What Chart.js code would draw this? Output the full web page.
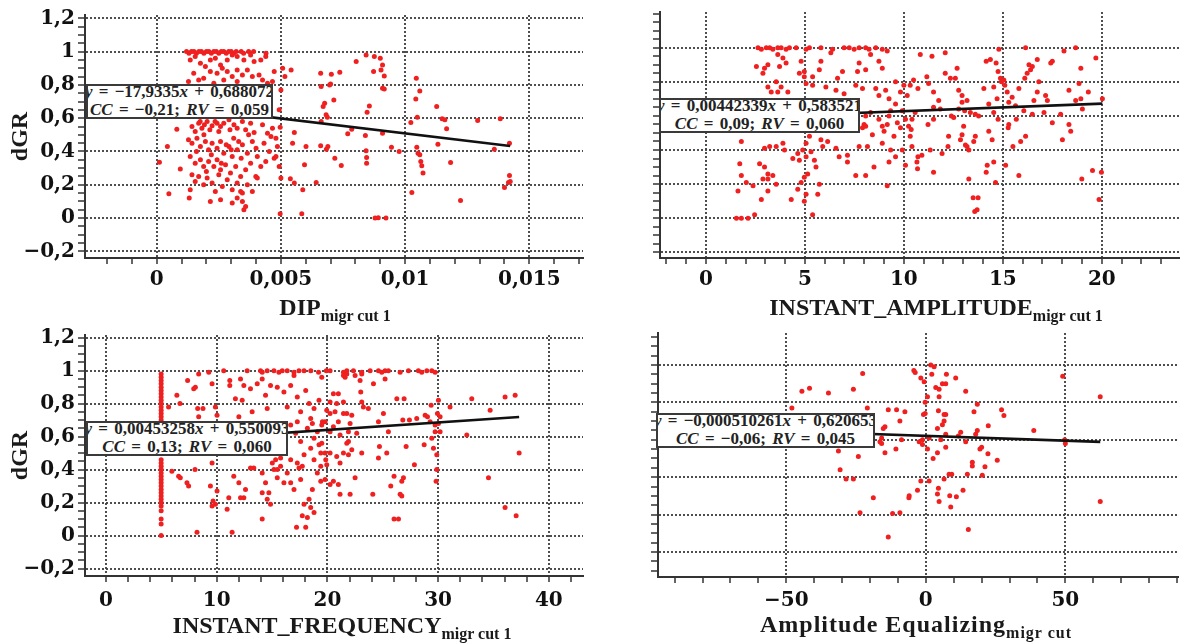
<!DOCTYPE html>
<html>
<head>
<meta charset="utf-8">
<script src="https://cdn.jsdelivr.net/npm/chart.js@4.4.1/dist/chart.umd.min.js"></script>
<style>
  html, body { margin: 0; padding: 0; background: #fff; }
  #page { position: relative; width: 1183px; height: 643px; overflow: hidden; }
  canvas { position: absolute; }
  .box { position: absolute; background: #fff; border: 2px solid #3a3a3a; box-sizing: border-box;
         overflow: hidden; white-space: nowrap; text-align: center; color: #222;
         font: bold 17px "Liberation Serif", serif; word-spacing: 2px; }
  .box div { height: 18px; line-height: 18px; margin-left: -10px; margin-right: -10px; }
  .box div:first-child { margin-top: -3px; }
  .xt { position: absolute; white-space: nowrap; transform: translateX(-50%); color: #1a1a1a;
        font: bold 24px "Liberation Serif", serif; line-height: 28px; }
  .xt span { font-size: 16px; position: relative; top: 6px; }
</style>
</head>
<body>
<div id="page">
  <canvas id="c1" width="600" height="300" style="left:0;top:0"></canvas>
  <canvas id="c2" width="583" height="300" style="left:600px;top:0"></canvas>
  <canvas id="c3" width="600" height="323" style="left:0;top:320px"></canvas>
  <canvas id="c4" width="583" height="323" style="left:600px;top:320px"></canvas>
  <div class="xt" style="left:335px;top:293px">DIP<span>migr cut 1</span></div>
  <div class="xt" style="left:936px;top:293px">INSTANT_AMPLITUDE<span>migr cut 1</span></div>
  <div class="xt" style="left:342px;top:611px">INSTANT_FREQUENCY<span>migr cut 1</span></div>
  <div class="xt" style="left:916px;top:610px;letter-spacing:1px">Amplitude Equalizing<span>migr cut</span></div>
</div>
<script>
// ===== values =====

// DIP (migr cut 1) vs dGR
var dipPoints = [
  [0.0012,1],[0.0013,0.99],[0.0014,1],[0.0015,1],[0.0016,0.99],[0.0017,1],[0.0018,1],[0.0019,0.99],[0.002,1],[0.0021,1],
  [0.0022,0.99],[0.0023,1],[0.0024,1],[0.0025,0.99],[0.0026,1],[0.0027,1],[0.0028,0.99],[0.0029,1],[0.003,1],[0.0031,0.99],
  [0.0032,1],[0.0034,1],[0.0035,0.99],[0.0037,1],[0.0039,1],[0.0044,0.99],
  [0.00135,0.95],[0.00155,0.97],[0.00176,0.93],[0.00196,0.91],[0.00216,0.95],[0.00236,0.96],[0.00257,0.92],[0.00284,0.95],
  [0.00304,0.98],[0.00324,0.97],[0.00351,0.95],[0.00378,0.98],[0.00392,0.94],[0.00419,0.95],[0.00439,0.97],[0.00473,0.88],
  [0.00149,0.87],[0.00169,0.83],[0.00189,0.84],[0.00216,0.88],[0.00243,0.87],[0.00264,0.9],[0.00284,0.88],[0.00304,0.85],
  [0.00324,0.89],[0.00345,0.86],[0.00365,0.89],[0.00385,0.85],[0.00412,0.86],[0.00426,0.83],[0.00446,0.81],[0.00466,0.82],
  [0.00128,0.82],[0.0023,0.81],[0.00324,0.82],[0.0027,0.83],
  [0.00507,0.9],[0.00541,0.89],[0.00516,0.85],[0.005,0.77],[0.00493,0.65],[0.0066,0.87],[0.00662,0.79],[0.00696,0.8],
  [0.00682,0.62],[0.00662,0.58],
  [0.00081,0.534],[0.00043,0.43],[0.00011,0.336],[0.00095,0.294],[0.00049,0.146],[0.00131,0.12],[0.00135,0.17],
  [0.00142,0.55],[0.00155,0.52],[0.00169,0.57],[0.00182,0.54],[0.00192,0.56],[0.00203,0.58],[0.00214,0.53],[0.00223,0.554],
  [0.00243,0.57],[0.00257,0.55],[0.0027,0.57],[0.00291,0.59],[0.00311,0.56],[0.00324,0.54],[0.00345,0.58],[0.00358,0.53],
  [0.00378,0.57],[0.00392,0.514],[0.00426,0.56],[0.00446,0.51],[0.00466,0.54],[0.0048,0.48],
  [0.00128,0.47],[0.00142,0.45],[0.00162,0.48],[0.00176,0.43],[0.00196,0.46],[0.00209,0.41],[0.00223,0.45],[0.00243,0.42],
  [0.00257,0.46],[0.0027,0.39],[0.00291,0.43],[0.00304,0.37],[0.00324,0.41],[0.00345,0.44],[0.00365,0.39],[0.00385,0.46],
  [0.00405,0.37],[0.00432,0.45],[0.00453,0.4],[0.00473,0.36],
  [0.00135,0.37],[0.00155,0.33],[0.00176,0.35],[0.00189,0.31],[0.00209,0.34],[0.0023,0.31],[0.00243,0.35],[0.00257,0.29],
  [0.00277,0.32],[0.00297,0.27],[0.00318,0.31],[0.00338,0.25],[0.00358,0.29],[0.00378,0.33],[0.00399,0.25],[0.00419,0.31],
  [0.00439,0.34],
  [0.00142,0.26],[0.00155,0.22],[0.00169,0.25],[0.00189,0.2],[0.00203,0.24],[0.00223,0.21],[0.00236,0.16],[0.0025,0.26],
  [0.00264,0.19],[0.00284,0.23],[0.00304,0.17],[0.00324,0.21],[0.00345,0.15],[0.00365,0.2],[0.00385,0.16],[0.00405,0.24],
  [0.00216,0.1],[0.00257,0.11],[0.00304,0.09],[0.00324,0.12],[0.00345,0.1],[0.00351,0.05],[0.00358,0.07],[0.00338,0.16],
  [0.0016,0.4],[0.0019,0.5],[0.0022,0.38],[0.0025,0.52],[0.0028,0.44],[0.0031,0.48],[0.0034,0.36],[0.0037,0.5],
  [0.004,0.42],[0.002,0.28],[0.0026,0.33],[0.003,0.41],[0.00235,0.58],[0.00175,0.58],[0.00295,0.53],[0.0033,0.46],
  [0.00497,0.546],[0.0046,0.49],[0.00486,0.43],[0.0048,0.37],[0.00493,0.31],[0.005,0.24],[0.00497,0.026],[0.00538,0.236],
  [0.00554,0.21],[0.00584,0.026],[0.00588,0.17],[0.00595,0.32],[0.00601,0.43],[0.00547,0.45],[0.00554,0.514],[0.0066,0.434],
  [0.00642,0.214],[0.00689,0.43],
  [0.00803,0.94],[0.00843,0.98],[0.00876,0.97],[0.009,0.96],[0.00909,0.92],[0.00903,0.89],[0.00873,0.88],[0.00916,0.854],
  [0.00909,0.78],[0.00916,0.776],[0.007,0.806],[0.00737,0.876],[0.00703,0.864],[0.00713,0.71],[0.00676,0.69],[0.0067,0.67],
  [0.00687,0.606],[0.00856,0.674],[0.00847,0.636],[0.00785,0.534],[0.00769,0.506],[0.0084,0.496],[0.00909,0.51],[0.00683,0.414],
  [0.00717,0.36],[0.00743,0.316],[0.00843,0.404],[0.00845,0.364],[0.00845,0.33],[0.00945,0.426],[0.00976,0.4],[0.00879,0],
  [0.00892,0.002],[0.00923,0],[0.01045,0.84],[0.01043,0.716],[0.01059,0.764],[0.01049,0.606],[0.01023,0.574],[0.01127,0.67],
  [0.01149,0.596],[0.0116,0.59],[0.01167,0.536],[0.01132,0.444],[0.01047,0.426],[0.01052,0.39],[0.01059,0.38],[0.01063,0.34],
  [0.01067,0.314],[0.01072,0.27],[0.01027,0.154],[0.01183,0.334],[0.01223,0.106],[0.01292,0.586],[0.01383,0.596],[0.01359,0.414],
  [0.0142,0.45],[0.0142,0.256],[0.01423,0.22],[0.01416,0.214],[0.014,0.184]
];

// INSTANT_AMPLITUDE (migr cut 1) vs dGR
var ampPoints = [
  [2.63,1],[2.8,0.99],[3.05,1],[3.22,1],[3.38,0.99],[3.63,1],[3.8,1],[4.05,0.99],[4.22,1],[4.56,1],[5.06,0.99],[5.23,1],
  [5.81,1],[6.4,0.99],[6.98,1],[7.24,1],[7.49,0.99],[7.74,1],[8.07,1],[8.24,0.99],[8.58,1],[8.91,0.99],[9.16,0.98],
  [14.8,0.99],[16.15,1],[18.68,1],[18.09,0.98],
  [2.96,0.88],[2.55,0.89],[2.88,0.85],[3.13,0.9],[3.63,0.96],[3.89,0.94],[4.05,0.91],[3.72,0.89],[4.81,0.92],[4.97,0.86],
  [4.72,0.85],[5.39,0.83],[5.73,0.87],[5.81,0.92],[6.31,0.97],[6.9,0.86],[6.65,0.82],[7.66,0.86],[7.74,0.91],[8.07,0.87],
  [8.32,0.96],[8.74,0.92],[8.91,0.88],
  [3.55,0.8],[3.8,0.77],[4.14,0.74],[3.3,0.74],[3.13,0.77],[3.63,0.74],[4.97,0.83],[5.06,0.79],[5.39,0.78],[6.06,0.77],
  [6.57,0.75],[6.98,0.73],[7.57,0.78],[7.91,0.76],[8.58,0.76],[8.74,0.72],[9.08,0.75],[9.25,0.7],[9.58,0.8],[9.83,0.74],
  [10,0.78],[10.17,0.72],[9.58,0.67],[9.92,0.63],[9.33,0.63],
  [7.99,0.55],[8.07,0.6],[8.32,0.62],[7.91,0.53],[8.74,0.58],[9.25,0.6],[9.67,0.56],[10.08,0.58],[9,0.51],
  [8.07,0.54],[8.41,0.49],[8.91,0.54],[9.16,0.55],[9.5,0.48],[9.83,0.53],[7.74,0.42],[8.16,0.42],[8.91,0.44],[9.33,0.4],
  [9.58,0.36],[9.92,0.4],[9.25,0.33],[10.08,0.31],[8.49,0.3],[7.57,0.25],[8.07,0.25],[9.16,0.19],
  [5.23,0.48],[5.06,0.44],[4.89,0.4],[5.06,0.36],[5.31,0.39],[4.72,0.34],[4.39,0.35],[4.64,0.38],[5.48,0.34],[5.56,0.3],
  [4.97,0.24],[5.14,0.26],[4.81,0.21],[4.64,0.17],[5.06,0.14],[4.97,0.1],[4.31,0.11],[5.39,0.02],[5.73,0.2],[5.65,0.14],
  [5.81,0.46],[6.15,0.45],[6.57,0.41],[6.73,0.36],[7.15,0.37],[7.15,0.33],[5.9,0.42],[3.89,0.44],[3.97,0.4],[3.55,0.42],
  [3.22,0.42],[2.96,0.41],[2.71,0.32],[2.96,0.3],[3.13,0.26],[3.38,0.25],[2.88,0.23],[3.13,0.16],[2.8,0.11],[2.38,0.19],
  [2.04,0.21],[1.79,0.25],[1.71,0.32],[1.79,0.45],[1.62,0.16],[1.54,0],[1.79,0],[2.13,0],[2.46,0.02],[3.55,0.2],[3.13,0.23],
  [10.83,0.96],[11.42,0.95],[12.09,0.97],[14.16,0.92],[14.37,0.93],[14.66,0.91],[14.76,0.86],[14.88,0.82],[14.93,0.8],
  [15.05,0.81],[16.32,0.9],[16.49,0.89],[16.4,0.87],[16.23,0.85],[16.11,0.82],[16.74,0.93],[17.5,0.92],[17.42,0.91],
  [18.94,0.88],[19.7,0.94],[18.85,0.79],[19.32,0.74],[18.94,0.7],[20.03,0.7],[19.02,0.64],[18.68,0.69],[18.34,0.75],
  [17.16,0.72],[17.25,0.69],[16.74,0.74],[16.82,0.8],[16.57,0.69],[15.81,0.76],[15.47,0.71],[15.22,0.74],[15.1,0.78],
  [15.3,0.68],[15.64,0.66],[16.06,0.63],[16.49,0.61],[17.08,0.62],[17.5,0.56],[17.92,0.61],[18.34,0.55],[18.43,0.51],
  [18.01,0.46],[16.15,0.48],[15.9,0.45],[15.51,0.42],[15.3,0.55],[15.27,0.53],[15.68,0.58],[15.14,0.31],[15.81,0.25],
  [14.76,0.58],[14.54,0.33],[14.63,0.21],[14.21,0.31],[14.16,0.27],[13.75,0.12],[13.5,0.12],[13.7,0.05],[13.58,0.04],
  [13.28,0.23],[13.28,0.4],[13.19,0.42],[13.11,0.43],[13.61,0.48],[13.53,0.45],[13.78,0.6],[13.61,0.61],[13.36,0.62],
  [13.07,0.63],[12.94,0.68],[12.94,0.72],[12.77,0.75],[13.19,0.69],[12.6,0.82],[12.69,0.88],[12.35,0.82],[12.09,0.85],
  [12.77,0.64],[12.52,0.59],[12.4,0.6],[13.02,0.54],[12.94,0.49],[12.86,0.46],[12.26,0.48],[12.23,0.42],[11.93,0.38],
  [11.5,0.27],[11.33,0.4],[10.91,0.37],[10.71,0.36],[10.66,0.33],[10.69,0.29],[10.41,0.42],[10.32,0.48],[10.37,0.52],
  [11.22,0.55],[11.5,0.58],[11.84,0.64],[11.5,0.65],[11.76,0.69],[11.5,0.74],[11.25,0.79],[11.16,0.83],[10.49,0.81],
  [10.71,0.76],[10.32,0.78],[10.41,0.58],[10.57,0.62],[10.24,0.54],[19.53,0.28],[18.99,0.23],[19.98,0.27],[19.86,0.11],
  [14.29,0.51],[14.46,0.46],[14.54,0.62],[14.29,0.67],[14.04,0.76],[14.54,0.77],[14.71,0.7]
];

// INSTANT_FREQUENCY (migr cut 1) vs dGR
var freqPoints = [
  [4.98,0.98],[4.98,0.96],[4.98,0.94],[4.98,0.92],[4.98,0.9],[4.98,0.88],[4.98,0.86],[4.98,0.84],[4.98,0.82],[4.98,0.8],
  [4.98,0.78],[4.98,0.76],[4.98,0.74],[4.98,0.72],[4.98,0.7],[4.98,0.66],[4.98,0.6],[4.98,0.55],[4.98,0.5],[4.98,0.46],
  [4.98,0.44],[4.98,0.42],[4.98,0.4],[4.98,0.38],[4.98,0.36],[4.98,0.34],[4.98,0.32],[4.98,0.3],[4.98,0.28],[4.98,0.26],
  [4.98,0.24],[4.98,0.22],[4.98,0.2],[4.98,0.18],[4.98,0.15],[4.98,0.1],[4.98,0.07],[4.98,0],
  [10.63,1],[12.75,1],[13.96,1],[14.11,0.99],[14.56,1],[15.17,1],[15.62,0.99],[15.92,1],[16.37,1],[16.98,0.99],[17.43,1],
  [17.89,1],[18.5,1],[19.2,0.99],[19.9,1],[20.24,1],[21.45,0.99],[21.75,1],[22.35,1],[23.1,0.99],[23.86,1],[24.61,1],
  [24.91,0.99],[25.21,1],[25.51,1],[26.57,0.99],[27.32,1],[28.22,1],[28.52,0.99],[28.98,1],[29.43,1],[29.73,0.99],
  [5.65,0.78],[6.4,0.85],[6.68,0.8],[7.37,0.94],[7.92,0.89],[8.07,0.9],[8.37,0.98],[8.28,0.77],[8.76,0.77],[8.37,0.72],
  [9.28,0.99],[9.58,0.92],[9.88,0.78],[10.03,0.73],[11.18,0.94],[11.18,0.91],[11.69,0.83],[12.15,0.95],[12.45,0.91],
  [12.3,0.82],[12,0.72],[13.05,0.89],[13.2,0.75],[13.66,0.92],[14.11,0.95],[14.41,0.85],[14.56,0.77],[14.86,0.91],
  [15.47,0.9],[16.07,0.87],[16.37,0.78],[16.68,0.91],[16.98,0.97],[17.28,0.84],[17.58,0.75],[18.04,0.88],[18.34,0.8],
  [18.49,0.71],[18.79,0.77],[19.24,0.82],[19.55,0.69],
  [5.95,0.39],[6.56,0.36],[6.71,0.35],[7.31,0.32],[7.46,0.3],[8.04,0.4],[8.22,0.02],[9.12,0.5],[9.58,0.44],[9.43,0.3],
  [9.67,0.21],[9.88,0.19],[9.58,0.18],[10.03,0.27],[10.94,0.16],[11.09,0.23],[11.39,0.02],[11.54,0.36],[12,0.32],[12.15,0.23],
  [12.45,0.23],[12.6,0.28],[13.05,0.41],[13.35,0.41],[14.11,0.38],[14.11,0.26],[14.11,0.1],[14.56,0.22],[14.71,0.26],
  [14.86,0.19],[14.41,0.32],[15.02,0.44],[15.32,0.46],[15.47,0.35],[15.77,0.42],[16.07,0.32],[16.37,0.38],[16.68,0.32],
  [16.98,0.28],[17.21,0.05],[17.43,0.41],[17.73,0.42],[17.58,0.34],[17.89,0.19],[18.04,0.05],[18.19,0.11],[17.73,0.12],
  [18.34,0.22],[18.49,0.17],[18.64,0.28],[18.79,0.14],[19.09,0.38],[19.4,0.33],[15.17,0.4],[15.77,0.47],[16.68,0.46],
  [17.28,0.44],[18.79,0.46],[19.4,0.42],[19.85,0.46],[15.47,0.4],
  [16.68,0.67],[17.13,0.62],[17.58,0.57],[18.19,0.65],[18.64,0.68],[18.79,0.59],[19.24,0.55],[19.4,0.5],[17.89,0.49],
  [18.49,0.53],[19.09,0.63],[17.28,0.69],
  [19.49,0.96],[20.54,0.86],[20.99,0.86],[21.45,0.97],[21.6,0.96],[21.75,0.98],[22.5,0.97],[22.95,0.94],[23.1,0.98],
  [24.16,0.92],[25.21,0.95],[23.01,0.87],[20.24,0.81],[20.84,0.8],[21.45,0.81],[23.1,0.81],[23.25,0.78],[23.7,0.77],
  [26.27,0.83],[26.93,0.83],[29.37,0.79],[30.03,0.82],[31.08,0.78],[33.04,0.83],[34.7,0.76],[36.05,0.84],[36.96,0.85],
  [19.94,0.76],[20.24,0.74],[20.69,0.75],[21.45,0.74],[21.75,0.74],[22.2,0.73],[25.06,0.74],[19.79,0.69],[20.99,0.69],
  [22.05,0.68],[20.54,0.66],[20.24,0.63],[21.9,0.63],[22.65,0.62],[21.14,0.61],[19.49,0.67],[24.61,0.69],[25.51,0.63],
  [26.81,0.7],[27.41,0.7],[28.07,0.71],[28.83,0.73],[29.04,0.72],[29.28,0.69],[29.73,0.67],[30.03,0.68],[29.94,0.74],
  [30.18,0.72],[29.73,0.63],[30.18,0.63],[29.43,0.59],[32.59,0.61],
  [19.49,0.56],[19.79,0.5],[20.24,0.5],[20.84,0.48],[21.45,0.5],[21.9,0.49],[22.2,0.52],[21.75,0.56],[21.9,0.57],[21.14,0.44],
  [19.94,0.43],[19.79,0.34],[20.24,0.31],[20.54,0.33],[20.99,0.31],[21.14,0.25],[22.05,0.25],[22.5,0.35],[23.1,0.5],
  [24.7,0.54],[24.61,0.47],[25.36,0.5],[27.11,0.54],[28.74,0.55],[29.58,0.53],[29.88,0.49],[29.88,0.4],[29.82,0.33],
  [27.86,0.43],[26.02,0.36],[26.87,0.35],[26.72,0.33],[25.72,0.3],[26.57,0.25],[26.72,0.24],[24.1,0.25],[26.02,0.1],
  [26.42,0.1],[34.55,0.35],[36.05,0.17],[37.05,0.12],[37.32,0.5]
];

// Amplitude Equalizing (migr cut) vs dGR
var eqPoints = [
  [-47.98,0.77],[-44.4,0.86],[-41.67,0.875],[-34.88,0.85],[-25.95,0.87],[-22.62,0.955],[-20.95,0.77],[-31.31,0.54],
  [-30.71,0.44],[-28.57,0.39],[-25.95,0.39],[-24.17,0.51],[-23.57,0.21],[-18.81,0.29],[-16.43,0.59],[-15.83,0.61],
  [-15.24,0.66],[-14.64,0.67],[-13.45,0.76],[-15.83,0.58],[-14.64,0.53],[-13.45,0.08],[-11.9,0.205],[-9.29,0.21],
  [-10.48,0.76],[-7.5,0.75],[-9.29,0.7],[-10.71,0.55],[-8.69,0.6],[-6.07,0.29],[-4.29,0.97],
  [-3.81,0.96],[-1.79,0.93],[-0.6,0.91],[1.79,1],[2.98,0.99],[2.14,0.95],[3.57,0.88],[4.76,0.87],[5.95,0.9],[7.14,0.9],
  [7.38,0.95],[10.71,0.93],[0.6,0.83],[-0.24,0.8],[4.76,0.83],[14.29,0.86],[4.52,0.755],[6.55,0.735],[7.14,0.735],
  [-0.24,0.74],[-0.83,0.735],[18.45,0.79],[17.26,0.75],[27.14,0.76],[27.98,0.73],[22.38,0.675],[6.55,0.7],[5.95,0.68],
  [4.17,0.66],[18.45,0.65],[17.86,0.63],[12.5,0.64],[11.67,0.62],[7.14,0.63],[38.69,0.65],[5.36,0.6],[1.19,0.61],
  [-1.19,0.6],[-2.38,0.59],[-1.19,0.575],[14.29,0.59],[7.14,0.56],[0.6,0.55],[2.62,0.5],[4.17,0.53],[20,0.56],[19.4,0.55],
  [22.26,0.525],[25.6,0.49],[16.67,0.48],[16.67,0.46],[21.19,0.455],[20.24,0.41],[14.88,0.415],[8.33,0.415],[9.29,0.415],
  [6.55,0.39],[1.19,0.38],[-1.79,0.38],[-2.98,0.33],[4.52,0.34],[4.17,0.31],[13.33,0.33],[8.57,0.3],[10.95,0.295],
  [4.76,0.27],[8.93,0.24],[-5.95,0.3],[15.24,0.12],[49.05,0.94],[62.5,0.83],[49.76,0.6],[50,0.58],[62.5,0.27]
];

// regression lines as printed on the figure: [slope, intercept] and [CC, RV]
var dipFit = [-17.9335, 0.688072];
var dipStats = [-0.21, 0.059];
var ampFit = [0.00442339, 0.583521];
var ampStats = [0.09, 0.060];
var freqFit = [0.00453258, 0.550093];
var freqStats = [0.13, 0.060];
var eqFit = [-0.000510261, 0.620653];
var eqStats = [-0.06, 0.045];

// tick values and labels
var dipTicks = [0, 0.005, 0.01, 0.015];
var dipTickLabels = ['0', '0,005', '0,01', '0,015'];
var ampTicks = [0, 5, 10, 15, 20];
var ampTickLabels = ['0', '5', '10', '15', '20'];
var freqTicks = [0, 10, 20, 30, 40];
var freqTickLabels = ['0', '10', '20', '30', '40'];
var eqTicks = [-50, 0, 50];
var eqTickLabels = ['\u221250', '0', '50'];
var dgrTicks = [-0.2, 0, 0.2, 0.4, 0.6, 0.8, 1, 1.2];
var dgrTickLabels = ['\u22120,2', '0', '0,2', '0,4', '0,6', '0,8', '1', '1,2'];
var dgrTicksNoTop = [-0.2, 0, 0.2, 0.4, 0.6, 0.8, 1];
var eqYTicks = [0, 0.2, 0.4, 0.6, 0.8, 1];

// ===== drawing =====
var RED = 'rgb(240,32,32)';
var GRID = 'rgba(60,60,60,0.9)';
var AXIS = '#333';

function range(from, to, step) {
  var out = [];
  var n = Math.round((to - from) / step);
  for (var i = 0; i <= n; i++) out.push(+(from + i * step).toFixed(6));
  return out;
}

function indexOfTick(list, v, eps) {
  for (var i = 0; i < list.length; i++) if (Math.abs(list[i] - v) < eps) return i;
  return -1;
}

function mergeTicks(majors, minors, eps) {
  var all = majors.slice();
  minors.forEach(function(m) { if (indexOfTick(all, m, eps) < 0) all.push(m); });
  return all.sort(function(a, b) { return a - b; });
}

function fmt(v) {
  return String(v).replace('.', ',').replace('-', '\u2212');
}

var panels = [
  { id: 'c1', points: dipPoints, fit: dipFit, stats: dipStats,
    xTicks: dipTicks, xLabels: dipTickLabels, xMinor: range(-0.002, 0.017, 0.001), xMin: -0.002886, xMax: 0.01716,
    yTicks: dgrTicks, yLabels: dgrTickLabels, yMinor: range(-0.2, 1.2, 0.05), yMin: -0.24, yMax: 1.22,
    yTitle: true, yWidth: 85, xHeight: 42, padTop: 15, padRight: 17, xPad: 4,
    box: { left: 86, top: 84, width: 187, height: 35 } },
  { id: 'c2', points: ampPoints, fit: ampFit, stats: ampStats,
    xTicks: ampTicks, xLabels: ampTickLabels, xMinor: range(-2, 23, 1), xMin: -2.32, xMax: 23.9,
    yTicks: dgrTicksNoTop, yLabels: null, yMinor: range(-0.2, 1.2, 0.05), yMin: -0.233, yMax: 1.209,
    yTitle: false, yWidth: 60, xHeight: 42, padTop: 12, padRight: 3, xPad: 4,
    box: { left: 659, top: 98, width: 201, height: 35 } },
  { id: 'c3', points: freqPoints, fit: freqFit, stats: freqStats,
    xTicks: freqTicks, xLabels: freqTickLabels, xMinor: range(0, 42, 2), xMin: -1.9, xMax: 43.09,
    yTicks: dgrTicks, yLabels: dgrTickLabels, yMinor: range(-0.2, 1.2, 0.05), yMin: -0.245, yMax: 1.216,
    yTitle: true, yWidth: 85, xHeight: 67, padTop: 14, padRight: 17, xPad: 7,
    box: { left: 86, top: 421, width: 202, height: 35 } },
  { id: 'c4', points: eqPoints, fit: eqFit, stats: eqStats,
    xTicks: eqTicks, xLabels: eqTickLabels, xMinor: range(-90, 90, 10), xMin: -95.96, xMax: 90.5,
    yTicks: eqYTicks, yLabels: null, yMinor: range(-0.1, 1.15, 0.05), yMin: -0.134, yMax: 1.171,
    yTitle: false, yWidth: 58, xHeight: 66, padTop: 13, padRight: 3, xPad: 6,
    box: { left: 656, top: 413, width: 219, height: 35 } }
];

function buildChart(p) {
  var pts = p.points.map(function(d) { return { x: d[0], y: d[1] }; });
  var xs = p.points.map(function(d) { return d[0]; });
  var x0 = Math.min.apply(null, xs), x1 = Math.max.apply(null, xs);
  var fitLine = [
    { x: x0, y: p.fit[0] * x0 + p.fit[1] },
    { x: x1, y: p.fit[0] * x1 + p.fit[1] }
  ];
  var xEps = (p.xMinor[1] - p.xMinor[0]) / 100;
  var yEps = 0.001;
  var xAll = mergeTicks(p.xTicks, p.xMinor, xEps);
  var yAll = mergeTicks(p.yTicks, p.yMinor, yEps);

  new Chart(document.getElementById(p.id), {
    type: 'scatter',
    data: {
      datasets: [
        { data: fitLine, showLine: true, borderColor: '#111', borderWidth: 2.6, pointRadius: 0, order: 0 },
        { data: pts, pointRadius: 2.5, pointBorderWidth: 0, backgroundColor: RED, borderColor: RED, order: 1 }
      ]
    },
    options: {
      responsive: false, animation: false, events: [],
      layout: { padding: { top: p.padTop, right: p.padRight, left: 0, bottom: 0 } },
      plugins: { legend: { display: false }, tooltip: { enabled: false } },
      scales: {
        x: {
          type: 'linear', min: p.xMin, max: p.xMax,
          afterBuildTicks: function(axis) { axis.ticks = xAll.map(function(v) { return { value: v }; }); },
          afterFit: function(axis) { axis.height = p.xHeight; },
          grid: {
            color: function(c) { return (!c.tick || indexOfTick(p.xTicks, c.tick.value, xEps) >= 0) ? GRID : 'rgba(0,0,0,0)'; },
            lineWidth: 2, tickLength: 6, tickColor: AXIS, tickWidth: 1.5
          },
          border: { color: AXIS, width: 2, dash: [2, 2] },
          ticks: {
            autoSkip: false, maxRotation: 0, padding: p.xPad, color: '#111',
            font: { family: '"DejaVu Serif"', size: 20, weight: 'bold' },
            callback: function(v) { var i = indexOfTick(p.xTicks, v, xEps); return i >= 0 ? p.xLabels[i] : ''; }
          }
        },
        y: {
          type: 'linear', min: p.yMin, max: p.yMax,
          afterBuildTicks: function(axis) { axis.ticks = yAll.map(function(v) { return { value: v }; }); },
          afterFit: function(axis) { axis.width = p.yWidth; },
          grid: {
            color: function(c) { return (!c.tick || indexOfTick(p.yTicks, c.tick.value, yEps) >= 0) ? GRID : 'rgba(0,0,0,0)'; },
            lineWidth: 2, tickLength: 7, tickColor: AXIS, tickWidth: 1.5
          },
          border: { color: AXIS, width: 2, dash: [2, 2] },
          title: {
            display: p.yTitle, text: 'dGR', color: '#1a1a1a', padding: { top: 6, bottom: 0 },
            font: { family: '"Liberation Serif"', size: 24, weight: 'bold' }
          },
          ticks: {
            display: !!p.yLabels, autoSkip: false, padding: 3, color: '#111',
            font: { family: '"DejaVu Serif"', size: 20, weight: 'bold' },
            callback: function(v) {
              if (!p.yLabels) return '';
              var i = indexOfTick(p.yTicks, v, yEps); return i >= 0 ? p.yLabels[i] : '';
            }
          }
        }
      }
    }
  });

  // equation box over the plot
  var box = document.createElement('div');
  box.className = 'box';
  box.style.left = p.box.left + 'px';
  box.style.top = p.box.top + 'px';
  box.style.width = p.box.width + 'px';
  box.style.height = p.box.height + 'px';
  box.innerHTML = '<div><i>y</i> = ' + fmt(p.fit[0]) + '<i>x</i> + ' + fmt(p.fit[1]) + '</div>' +
    '<div><i>CC</i> = ' + fmt(p.stats[0].toFixed(2)) + '; <i>RV</i> = ' + fmt(p.stats[1].toFixed(3)) + '</div>';
  document.getElementById('page').appendChild(box);
}

panels.forEach(buildChart);
</script>
</body>
</html>
